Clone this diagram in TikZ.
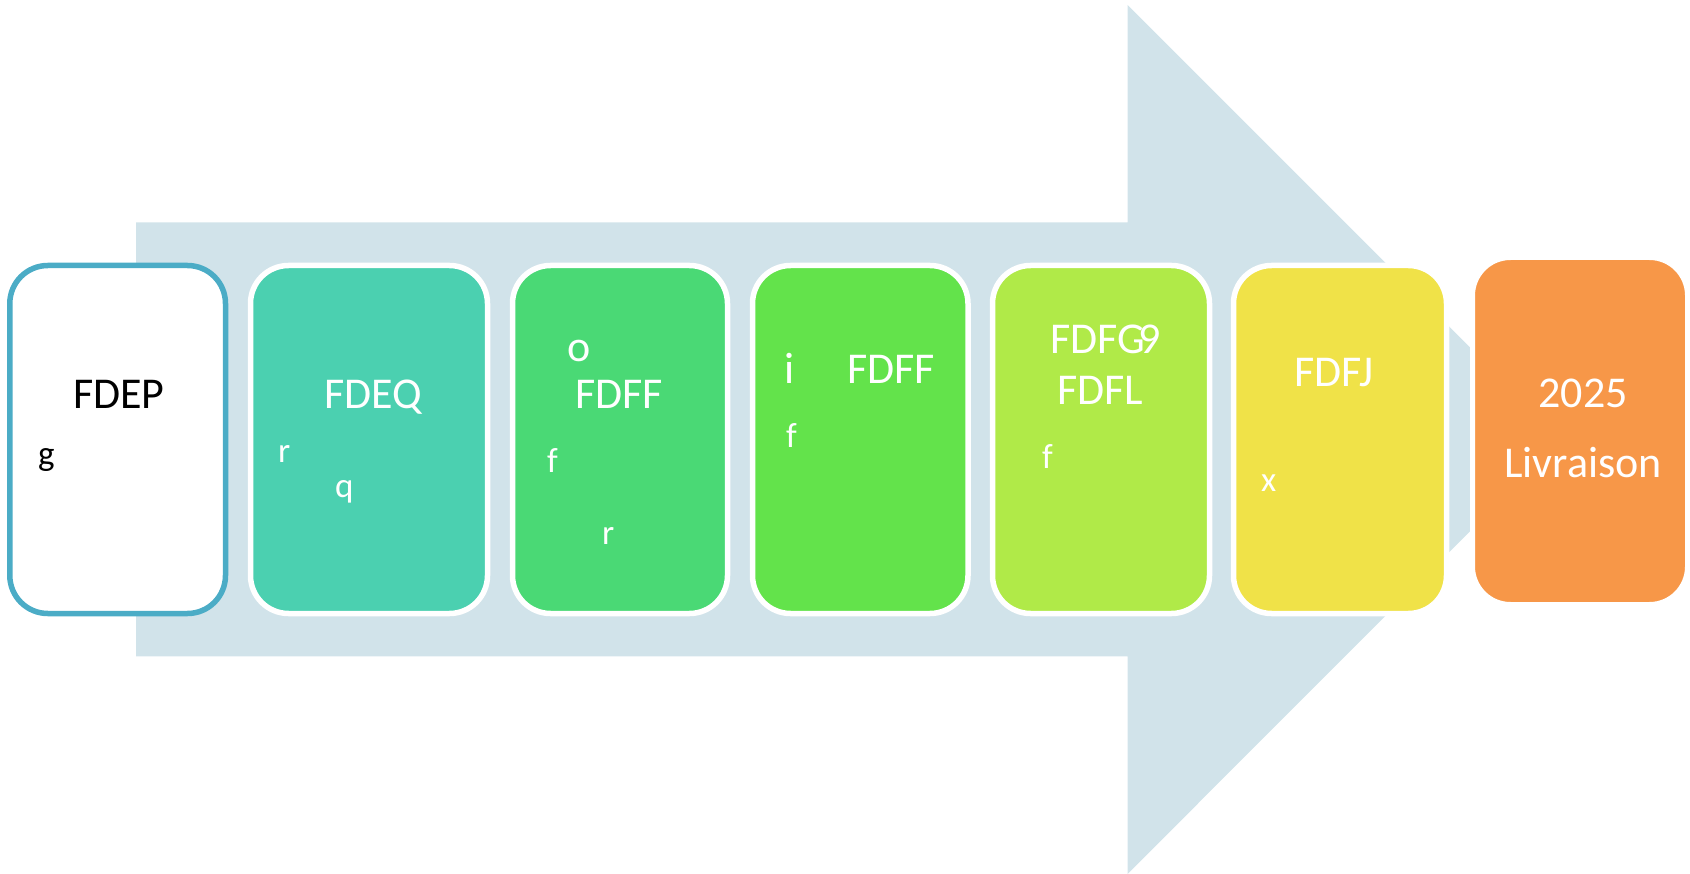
\documentclass[tikz,border=0pt]{standalone}
\usepackage{fontspec}
\setmainfont{Carlito}
\definecolor{arrowgray}{HTML}{D1E3EA}
\definecolor{bluebd}{HTML}{4BACC6}
\definecolor{cteal}{HTML}{4BD0B0}
\definecolor{cgreen}{HTML}{4AD975}
\definecolor{cbright}{HTML}{63E34B}
\definecolor{clime}{HTML}{B0EA48}
\definecolor{cyellow}{HTML}{F0E248}
\definecolor{corange}{HTML}{F79748}
\tikzset{
  card/.style={draw=white, line width=5.5pt, rounded corners=38pt},
  big/.style={inner sep=0pt, anchor=base west, text=white, font=\fontsize{44}{50}\selectfont},
  small/.style={inner sep=0pt, anchor=base west, text=white, font=\fontsize{35}{40}\selectfont},
}
\begin{document}
\begin{tikzpicture}[x=1pt,y=-1pt]
\useasboundingbox (0,0) rectangle (1690,874);
% background arrow
\fill[arrowgray] (136,222.3) -- (1127.7,222.3) -- (1127.7,5) -- (1562,439.4)
  -- (1127.7,873.8) -- (1127.7,656.4) -- (136,656.4) -- cycle;
% cards
\draw[card, draw=bluebd, fill=white] (9.8,265.5) rectangle (225.5,613.5);
\draw[card, fill=cteal] (250.5,265.5) rectangle (487.5,613.5);
\draw[card, fill=cgreen] (512.5,265.5) rectangle (727.5,613.5);
\draw[card, fill=cbright] (752.5,265.5) rectangle (968,613.5);
\draw[card, fill=clime] (992.5,265.5) rectangle (1209.5,613.5);
\draw[card, fill=cyellow] (1233.5,265.5) rectangle (1446.5,613.5);
\draw[card, line width=5pt, rounded corners=38pt, fill=corange] (1472.5,257.5) rectangle (1687.5,604.5);
% texts
\node[big, text=black] (t1) at (73,409) {FDEP};
\node[small, text=black] (t2) at (38,466) {g};
\node[big] (t3) at (324,409) {FDEQ};
\node[small] (t4) at (278,463) {r};
\node[small] (t5) at (335,497) {q};
\node[big] (t6) at (567,362) {o};
\node[big] (t7) at (575,409) {FDFF};
\node[small] (t8) at (547,472) {f};
\node[small] (t9) at (602,544) {r};
\node[big] (t10) at (784,384) {i};
\node[big] (t11) at (847,384) {FDFF};
\node[small] (t12) at (786,448) {f};
\node[big] (t13) at (1050,354) {FDFG\kern-0.14em 9};
\node[big] (t14) at (1057,405) {FDFL};
\node[small] (t15) at (1042,468) {f};
\node[big] (t16) at (1294,387) {FDFJ};
\node[small] (t17) at (1261,491) {x};
\node[big, anchor=base] (t18) at (1583,408) {2025};
\node[big, anchor=base] (t19) at (1583,478) {Livraison};
\end{tikzpicture}
\end{document}
